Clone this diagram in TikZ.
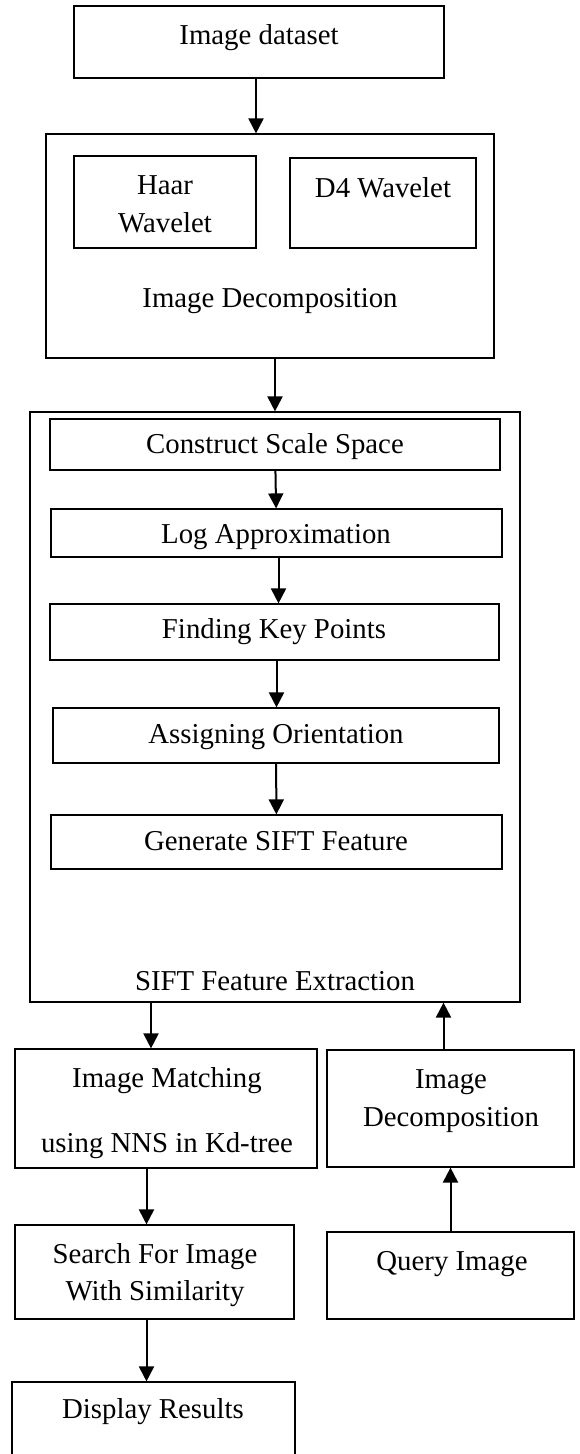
\documentclass[tikz,border=0pt]{standalone}
\usepackage{fontspec}
\setmainfont{Liberation Serif}
\usetikzlibrary{arrows.meta}

\tikzset{
  box/.style={draw, line width=1.2pt, inner sep=0pt},
  txt/.style={anchor=base, inner sep=0pt, font=\fontsize{28.8}{38}\selectfont},
  arr/.style={-{Triangle[length=15pt,width=15pt]}, line width=2pt},
}

\begin{document}
\begin{tikzpicture}[x=1pt, y=-1pt]
    \useasboundingbox (0,0) rectangle (579,1454);

    % top part
    \node[box, minimum width=370, minimum height=72] (dataset) at (259,42) {};
    \node[txt] (dataset-t) at (259,44) {Image dataset};

    \node[box, minimum width=448, minimum height=224] (decomp) at (270,246) {};
    \node[box, minimum width=182, minimum height=92] (haar) at (165,202) {};
    \node[box, minimum width=186, minimum height=90] (dfour) at (383,203) {};
    \node[txt] (haar-t1) at (165,194) {Haar};
    \node[txt] (haar-t2) at (165,232) {Wavelet};
    \node[txt] (dfour-t) at (383,197) {D4 Wavelet};
    \node[txt] (decomp-t) at (270,307) {Image Decomposition};

    % SIFT block
    \node[box, minimum width=490, minimum height=590] (sift) at (275,707) {};
    \node[box, minimum width=450, minimum height=51] (scale) at (275,444.5) {};
    \node[box, minimum width=451, minimum height=48] (logapp) at (276.5,533) {};
    \node[box, minimum width=449, minimum height=56] (keypts) at (274.5,632) {};
    \node[box, minimum width=446, minimum height=55] (orient) at (276,735.5) {};
    \node[box, minimum width=451, minimum height=54] (gensift) at (276.5,842) {};
    \node[txt] (scale-t) at (275,453) {Construct Scale Space};
    \node[txt] (logapp-t) at (276,543) {Log Approximation};
    \node[txt] (keypts-t) at (274,638) {Finding Key Points};
    \node[txt] (orient-t) at (276,743) {Assigning Orientation};
    \node[txt] (gensift-t) at (276,850) {Generate SIFT Feature};
    \node[txt] (sift-t) at (275,990) {SIFT Feature Extraction};

    % bottom part
    \node[box, minimum width=302, minimum height=119] (match) at (166,1108.5) {};
    \node[box, minimum width=247, minimum height=117] (qdecomp) at (450.5,1108.5) {};
    \node[box, minimum width=279, minimum height=94] (search) at (154.5,1272) {};
    \node[box, minimum width=247, minimum height=87] (query) at (450.5,1275.5) {};
    \node[box, minimum width=283, minimum height=88] (display) at (153.5,1426) {};
    \node[txt] (match-t1) at (167,1087) {Image Matching};
    \node[txt] (match-t2) at (167,1152) {using NNS in Kd-tree};
    \node[txt] (qdecomp-t1) at (451,1088) {Image};
    \node[txt] (qdecomp-t2) at (451,1126) {Decomposition};
    \node[txt] (search-t1) at (155,1263) {Search For Image};
    \node[txt] (search-t2) at (155,1300) {With Similarity};
    \node[txt] (query-t) at (452,1270) {Query Image};
    \node[txt] (display-t) at (153,1418) {Display Results};

    % arrows
    \draw[arr] ([xshift=-3pt]dataset.south) -- ([xshift=-3pt]dataset.south |- decomp.north);
    \draw[arr] (sift.north |- decomp.south) -- (sift.north);
    \draw[arr] (scale) -- (logapp);
    \draw[arr] ([xshift=2pt]logapp.south) -- ([xshift=2pt]logapp.south |- keypts.north);
    \draw[arr] ([xshift=2pt]keypts.south) -- ([xshift=2pt]keypts.south |- orient.north);
    \draw[arr] (orient) -- (gensift);
    \draw[arr] ([xshift=-15pt]match.north |- sift.south) -- ([xshift=-15pt]match.north);
    \draw[arr] ([xshift=-7pt]qdecomp.north) -- ([xshift=-7pt]qdecomp.north |- sift.south);
    \draw[arr] ([xshift=-8pt]search.north |- match.south) -- ([xshift=-8pt]search.north);
    \draw[arr] (query) -- (qdecomp);
    \draw[arr] ([xshift=-8pt]search.south) -- ([xshift=-8pt]search.south |- display.north);
\end{tikzpicture}
\end{document}
